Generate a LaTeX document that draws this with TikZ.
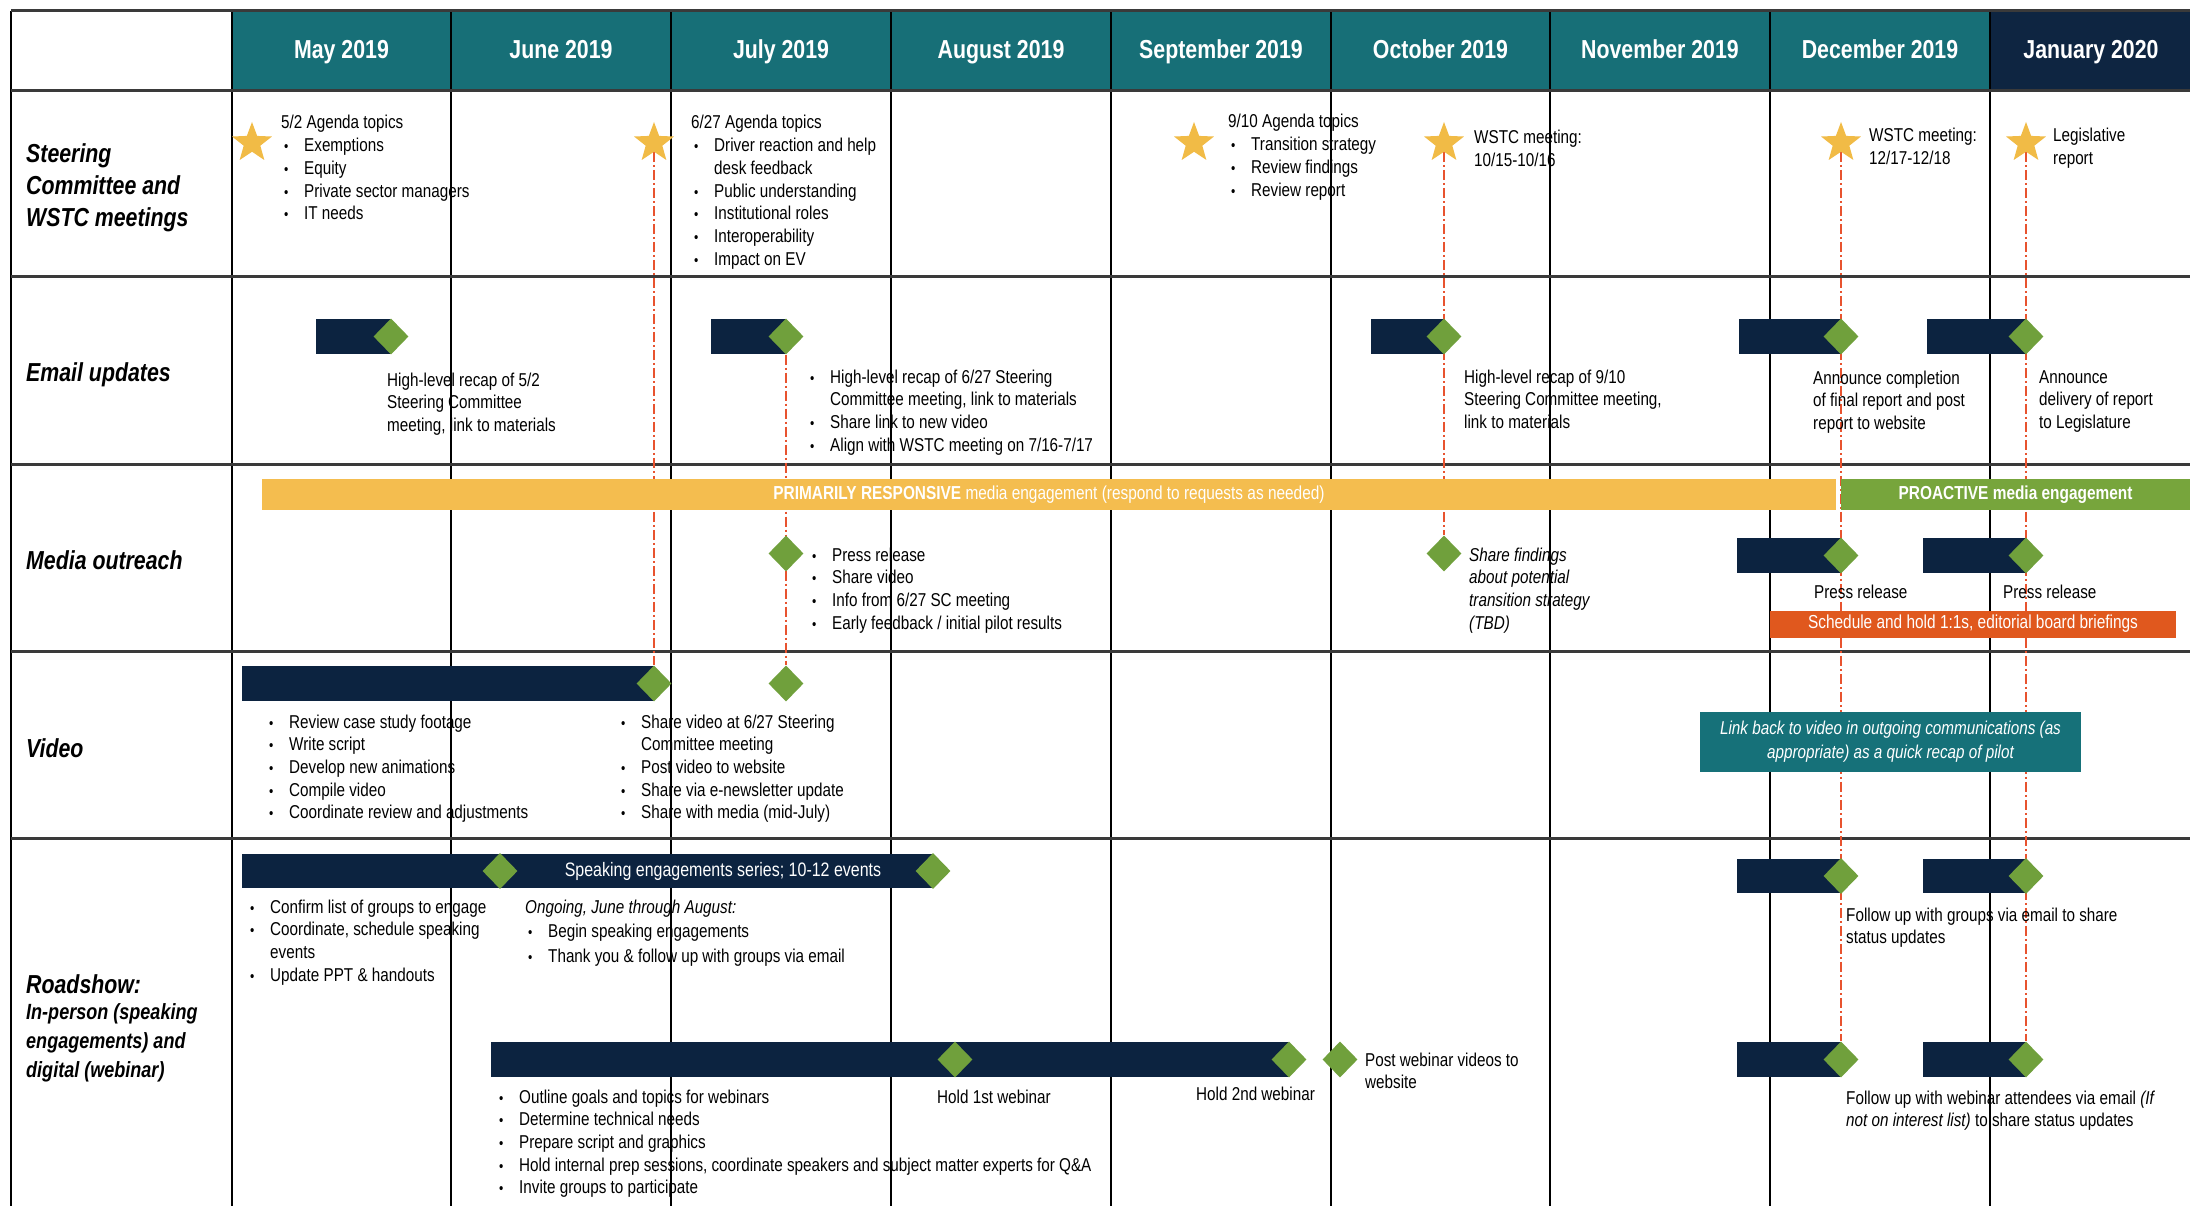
\documentclass[tikz,border=0pt]{standalone}
\usepackage{graphicx}
\usepackage{fontspec}
\setmainfont{Liberation Sans}[FakeStretch=0.82]
\usetikzlibrary{shapes.geometric}
\definecolor{hdrteal}{HTML}{176F77}
\definecolor{hdrnavy}{HTML}{0E2541}
\definecolor{barnavy}{HTML}{0C2340}
\definecolor{dgreen}{HTML}{70A03C}
\definecolor{stargold}{HTML}{F1BB46}
\definecolor{ybar}{HTML}{F4BD4F}
\definecolor{gbar}{HTML}{77A53C}
\definecolor{obar}{HTML}{E0581E}
\definecolor{tbox}{HTML}{167179}
\definecolor{redline}{HTML}{E8532F}
\definecolor{rowline}{HTML}{3A3A3A}
\newcommand{\bu}{\hspace*{3pt}\makebox[20pt][l]{\scalebox{0.8}{•}}}
\newcommand{\ct}{\hspace*{23pt}}
\pgfdeclarelayer{gridlayer}
\pgfdeclarelayer{redlayer}
\pgfsetlayers{gridlayer,redlayer,main}
% note: anchor=base west of a multi-line node sits on the LAST line's baseline
\tikzset{
  tx/.style={anchor=base west, inner sep=0pt, align=left, font=\fontsize{18.6}{22.7}\selectfont},
  lbl/.style={anchor=base west, inner sep=0pt, align=left, font=\fontsize{26}{32}\selectfont\bfseries\itshape},
  hdr/.style={anchor=base, text=white, inner sep=0pt, font=\fontsize{26}{30}\selectfont\bfseries},
  gem/.style={diamond, fill=dgreen, minimum width=35pt, minimum height=36pt, inner sep=0pt},
  goldstar/.style={star, star points=5, star point ratio=2.4, fill=stargold, minimum size=42pt, inner sep=0pt},
  redd/.style={draw=redline, line width=1.3pt, dash pattern=on 10pt off 3pt on 2pt off 3pt},
  vline/.style={draw=black, line width=1.5pt},
  hline/.style={draw=rowline, line width=3pt},
  navybar/.style={fill=barnavy},
  bandtext/.style={inner sep=0pt, text=white, font=\fontsize{18.8}{22}\selectfont},
}
\begin{document}
\begin{tikzpicture}[x=1pt,y=-1pt]
\useasboundingbox (0,0) rectangle (2190,1206);
\begin{pgfonlayer}{gridlayer}
\fill[white] (0,0) rectangle (2190,1206);
\fill[hdrteal] (232,11) rectangle (1990,91);
\fill[hdrnavy] (1990,11) rectangle (2190,91);
\foreach \x in {11,232,451,671,891,1111,1331,1550,1770,1990} \draw[vline] (\x,11) -- (\x,1206);
\foreach \y in {11,91,277,464,651,838} \draw[hline] (11,\y) -- (2190,\y);
\end{pgfonlayer}

% header
\node[hdr] (hMay) at (341.5,59) {May 2019};
\node[hdr] (hJun) at (561,59) {June 2019};
\node[hdr] (hJul) at (781,59) {July 2019};
\node[hdr] (hAug) at (1001,59) {August 2019};
\node[hdr] (hSep) at (1221,59) {September 2019};
\node[hdr] (hOct) at (1440.5,59) {October 2019};
\node[hdr] (hNov) at (1660,59) {November 2019};
\node[hdr] (hDec) at (1880,59) {December 2019};
\node[hdr] (hJan) at (2091,59) {January 2020};

% row labels
\node[lbl] (lSteer) at (26,227) {Steering\\Committee and\\WSTC meetings};
\node[lbl] (lEmail) at (26,381) {Email updates};
\node[lbl] (lMedia) at (26,569) {Media outreach};
\node[lbl] (lVideo) at (26,757) {Video};
\node[lbl] (lRoad) at (26,993) {Roadshow:};
\node[lbl, font=\fontsize{22}{29}\selectfont\bfseries\itshape] (lRoadB) at (26,1077) {In-person (speaking\\engagements) and\\digital (webinar)};

% row 1: meetings
\node[goldstar] (s1) at (252,143) {};
\node[goldstar] (s2) at (654,143) {};
\node[goldstar] (s3) at (1194,143) {};
\node[goldstar] (s4) at (1444,143) {};
\node[goldstar] (s5) at (1841,143) {};
\node[goldstar] (s6) at (2026,143) {};
\node[tx] (t52) at (281,219.8) {5/2 Agenda topics\\\bu Exemptions\\\bu Equity\\\bu Private sector managers\\\bu IT needs};
\node[tx] (t627) at (691,265.2) {6/27 Agenda topics\\\bu Driver reaction and help\\\ct desk feedback\\\bu Public understanding\\\bu Institutional roles\\\bu Interoperability\\\bu Impact on EV};
\node[tx] (t910) at (1228,196.1) {9/10 Agenda topics\\\bu Transition strategy\\\bu Review findings\\\bu Review report};
\node[tx] (tw1) at (1474,166.7) {WSTC meeting:\\10/15-10/16};
\node[tx] (tw2) at (1869,164.7) {WSTC meeting:\\12/17-12/18};
\node[tx] (tleg) at (2053,164.7) {Legislative\\report};

% row 2: email
\fill[navybar] (316,319) rectangle (391,354);
\fill[navybar] (711,319) rectangle (786,354);
\fill[navybar] (1371,319) rectangle (1444,354);
\fill[navybar] (1739,319) rectangle (1841,354);
\fill[navybar] (1927,319) rectangle (2026,354);
\node[gem] (ed1) at (391,336.5) {};
\node[gem] (ed2) at (786,336.5) {};
\node[gem] (ed3) at (1444,336.5) {};
\node[gem] (ed4) at (1841,336.5) {};
\node[gem] (ed5) at (2026,336.5) {};
\node[tx] (te1) at (387,431.4) {High-level recap of 5/2\\Steering Committee\\meeting, link to materials};
\node[tx] (te2) at (807,451.1) {\bu High-level recap of 6/27 Steering\\\ct Committee meeting, link to materials\\\bu Share link to new video\\\bu Align with WSTC meeting on 7/16-7/17};
\node[tx] (te3) at (1464,428.4) {High-level recap of 9/10\\Steering Committee meeting,\\link to materials};
\node[tx] (te4) at (1813,429.4) {Announce completion\\of final report and post\\report to website};
\node[tx] (te5) at (2039,428.4) {Announce\\delivery of report\\to Legislature};

% row 3: media
\node[bandtext, fill=ybar, minimum width=1574pt, minimum height=31pt] (ybarn) at (1049,494.5) {\textbf{PRIMARILY RESPONSIVE} media engagement (respond to requests as needed)};
\node[bandtext, fill=gbar, minimum width=349pt, minimum height=31pt] (gbarn) at (2015.5,494.5) {\textbf{PROACTIVE media engagement}};
\node[gem] (md1) at (786,553.5) {};
\node[gem] (md2) at (1444,553.5) {};
\fill[navybar] (1737,538) rectangle (1841,573);
\fill[navybar] (1923,538) rectangle (2026,573);
\node[gem] (md3) at (1841,555.5) {};
\node[gem] (md4) at (2026,555.5) {};
\node[tx] (tm1) at (809,629.1) {\bu Press release\\\bu Share video\\\bu Info from 6/27 SC meeting\\\bu Early feedback / initial pilot results};
\node[tx, font=\fontsize{18.6}{22.7}\selectfont\itshape] (tm2) at (1469,629.1) {Share findings\\about potential\\transition strategy\\(TBD)};
\node[tx] (tm3) at (1814,598) {Press release};
\node[tx] (tm4) at (2003,598) {Press release};
\node[bandtext, fill=obar, minimum width=406pt, minimum height=27pt] (obarn) at (1973,624) {Schedule and hold 1:1s, editorial board briefings};

% row 4: video
\fill[navybar] (242,666) rectangle (654,701);
\node[gem] (vd1) at (654,683.5) {};
\node[gem] (vd2) at (786,683.5) {};
\node[tx] (tv1) at (266,818.8) {\bu Review case study footage\\\bu Write script\\\bu Develop new animations\\\bu Compile video\\\bu Coordinate review and adjustments};
\node[tx] (tv2) at (618,818.8) {\bu Share video at 6/27 Steering\\\ct Committee meeting\\\bu Post video to website\\\bu Share via e-newsletter update\\\bu Share with media (mid-July)};
\node[fill=tbox, text=white, minimum width=381pt, minimum height=60pt, inner sep=0pt, align=center, font=\fontsize{18.6}{24}\selectfont\itshape] (tlink) at (1890.5,742) {Link back to video in outgoing communications (as\\appropriate) as a quick recap of pilot};

% row 5: roadshow
\fill[navybar] (242,854) rectangle (933,888);
\node[gem] (rd1) at (500,871) {};
\node[gem] (rd2) at (933,871) {};
\node[bandtext, font=\fontsize{19.5}{22}\selectfont] (tspk) at (723,871) {Speaking engagements series; 10-12 events};
\node[tx] (tr1) at (247,981.1) {\bu Confirm list of groups to engage\\\bu Coordinate, schedule speaking\\\ct events\\\bu Update PPT \& handouts};
\node[tx, font=\fontsize{18.6}{24.5}\selectfont] (tr2) at (525,962) {\textit{Ongoing, June through August:}\\\bu Begin speaking engagements\\\bu Thank you \& follow up with groups via email};
\fill[navybar] (491,1042) rectangle (1289,1077);
\node[gem] (wd1) at (955,1059.5) {};
\node[gem] (wd2) at (1289,1059.5) {};
\node[gem] (wd3) at (1340,1059.5) {};
\node[tx] (tw1st) at (937,1103) {Hold 1st webinar};
\node[tx] (tw2nd) at (1196,1100) {Hold 2nd webinar};
\node[tx] (tpost) at (1365,1088.7) {Post webinar videos to\\website};
\node[tx] (twb) at (496,1193.8) {\bu Outline goals and topics for webinars\\\bu Determine technical needs\\\bu Prepare script and graphics\\\bu Hold internal prep sessions, coordinate speakers and subject matter experts for Q\&A\\\bu Invite groups to participate};
\fill[navybar] (1737,859) rectangle (1841,893);
\fill[navybar] (1923,859) rectangle (2026,893);
\node[gem] (rd3) at (1841,876) {};
\node[gem] (rd4) at (2026,876) {};
\node[tx] (tfu1) at (1846,943.7) {Follow up with groups via email to share\\status updates};
\fill[navybar] (1737,1042) rectangle (1841,1077);
\fill[navybar] (1923,1042) rectangle (2026,1077);
\node[gem] (wd4) at (1841,1059.5) {};
\node[gem] (wd5) at (2026,1059.5) {};
\node[tx] (tfu2) at (1846,1126.7) {Follow up with webinar attendees via email \textit{(If}\\\textit{not on interest list)} to share status updates};

% red dashed connectors
\begin{pgfonlayer}{redlayer}
\draw[redd] (s2.south) -- (vd1.north);
\draw[redd] (ed2.south) -- (vd2.north);
\draw[redd] (s4.south) -- (md2.north);
\draw[redd] (s5.south) -- (wd4.north);
\draw[redd] (s6.south) -- (wd5.north);
\end{pgfonlayer}
\end{tikzpicture}
\end{document}
